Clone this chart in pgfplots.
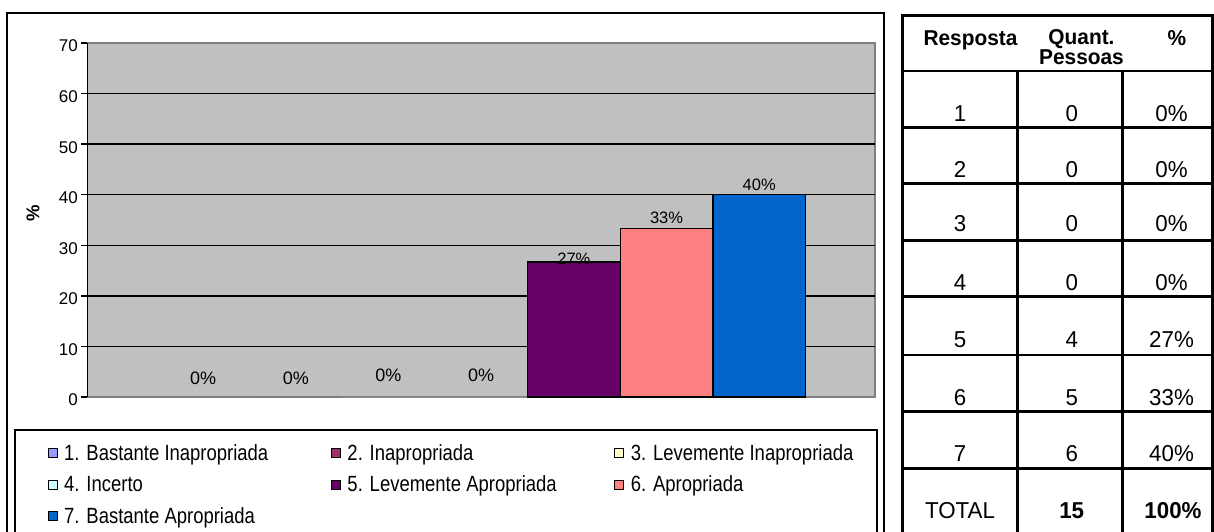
\documentclass[border=0pt]{standalone}
\usepackage{fontspec}
\setmainfont{Liberation Sans}
\newfontfamily\narrow[FakeStretch=0.84]{Liberation Sans}
\newfontfamily\tabfont[FakeStretch=0.97]{Liberation Sans}
\usepackage{pgfplots}
\pgfplotsset{compat=1.18}

\definecolor{c1}{HTML}{9999FF}
\definecolor{c2}{HTML}{993366}
\definecolor{c3}{HTML}{FFFFCC}
\definecolor{c4}{HTML}{CCFFFF}
\definecolor{c5}{HTML}{660066}
\definecolor{c6}{HTML}{FF8080}
\definecolor{c7}{HTML}{0066CC}
\definecolor{plotgray}{HTML}{C0C0C0}
\definecolor{bordergray}{HTML}{808080}

\newcommand\fs[1]{\fontsize{#1}{#1}\selectfont}
% fixed-width legend entry, height = twice the cap centre so the marker sits on it
\newcommand\entry[1]{\makebox[267pt][l]{\rule{0pt}{15.8pt}#1}}

\pgfplotsset{
  bar/.style={ybar, bar width=1, bar shift=0pt, fill=#1, draw=black, line width=1.3pt},
  zerobar/.style={ybar, bar width=1, bar shift=0pt, fill=#1, draw=none},
  lbl/.style 2 args={nodes near coords style={yshift=#1, font=\fs{#2}}},
}

\begin{document}
\begin{tikzpicture}
\useasboundingbox (0,0) rectangle (1214pt,531pt);

% chart frame and legend frame
\draw[line width=2pt] (7pt,-10pt) -- (7pt,518pt) -- (884pt,518pt) -- (884pt,-10pt);
\draw[line width=1.8pt] (15pt,-10pt) -- (15pt,101pt) -- (877pt,101pt) -- (877pt,-10pt);

\begin{axis}[
  at={(87.3pt,134pt)}, anchor=south west,
  scale only axis, width=787.7pt, height=354pt,
  xmin=-0.249, xmax=8.249, ymin=0, ymax=70,
  axis x line=none, axis y line=left,
  y axis line style={-, black, line width=1.5pt},
  axis background/.style={fill=plotgray, draw=bordergray, line width=1.5pt},
  xtick=\empty, ytick={0,10,...,70},
  tick align=outside, major tick length=6pt,
  ytick style={black, line width=1.3pt},
  extra y ticks={10,20,...,60}, extra y tick labels={},
  extra y tick style={grid=major, major grid style={black, line width=1.3pt}},
  yticklabel style={font=\fs{17}, yshift=-3pt},
  /pgf/number format/assume math mode=true,
  nodes near coords={\pgfmathprintnumber[fixed,precision=0]{\pgfplotspointmeta}\%},
  every node near coord/.append style={black, anchor=base},
  legend columns=3, legend cell align=left,
  legend style={at={(axis description cs:-0.0503,-0.133)}, anchor=north west,
    draw=none, fill=none, inner sep=0pt, row sep=14pt, column sep=0pt,
    font=\narrow\fs{22}, nodes={inner sep=0pt, anchor=west},
    /tikz/every odd column/.append style={column sep=6.5pt}},
  legend image code/.code={\draw[#1, draw=black, line width=0.8pt] (0pt,-4.5pt) rectangle (9pt,4.5pt);},
]
\addplot[zerobar=c1, lbl={12.5pt}{18}] coordinates {(1,0)};
\addplot[zerobar=c2, lbl={12.5pt}{18}] coordinates {(2,0)};
\addplot[zerobar=c3, lbl={15.5pt}{18}] coordinates {(3,0)};
\addplot[zerobar=c4, lbl={15.5pt}{18}] coordinates {(4,0)};
\addplot[bar=c5, lbl={-2.5pt}{16.5}] coordinates {(5,26.67)};
\addplot[bar=c6, lbl={4.7pt}{16.5}] coordinates {(6,33.33)};
\addplot[bar=c7, lbl={4.7pt}{16.5}] coordinates {(7,40)};
\legend{\entry{1. Bastante Inapropriada}, \entry{2. Inapropriada}, \entry{3. Levemente Inapropriada},
        \entry{4. Incerto}, \entry{5. Levemente Apropriada}, \entry{6. Apropriada},
        \entry{7. Bastante Apropriada}}
\end{axis}

\node[rotate=90, font=\bfseries\fs{18.5}] at (33pt,318pt) {\%};

% table
\draw[line width=2.5pt] (902.7pt,-5pt) -- (902.7pt,515.3pt) -- (1212.6pt,515.3pt) -- (1212.6pt,-5pt);
\foreach \y in {460,403.3,347.7,290.3,234.3,176,119.3,62.7}
  \draw[line width=2.5pt] (902.7pt,\y pt) -- (1214pt,\y pt);
\foreach \x in {1017.7,1122.7}
  \draw[line width=2.5pt] (\x pt,460pt) -- (\x pt,-5pt);

\begin{scope}[every node/.style={anchor=base, inner sep=0pt, font=\tabfont\bfseries\fontsize{21.5}{19}\selectfont}]
\node at (970.5pt,485pt) {Resposta};
\node[align=center] at (1081.5pt,466pt) {Quant.\\Pessoas};
\node at (1177pt,485pt) {\%};
\end{scope}

\begin{scope}[every node/.style={anchor=base, inner sep=0pt, font=\tabfont\fs{23}}]
\foreach \r/\q/\p/\b in {1/0/0/409.3, 2/0/0/353.7, 3/0/0/299.3, 4/0/0/241,
                        5/4/27/183.7, 6/5/33/126, 7/6/40/70} {
  \node at (960pt,\b pt) {\r};
  \node at (1071.7pt,\b pt) {\q};
  \node at (1171.5pt,\b pt) {\p\%};
}
\node at (960pt,12.7pt) {TOTAL};
\node[font=\tabfont\bfseries\fs{23}] at (1071.7pt,12.7pt) {15};
\node[font=\tabfont\bfseries\fs{23}] at (1173pt,12.7pt) {100\%};
\end{scope}
\end{tikzpicture}
\end{document}
